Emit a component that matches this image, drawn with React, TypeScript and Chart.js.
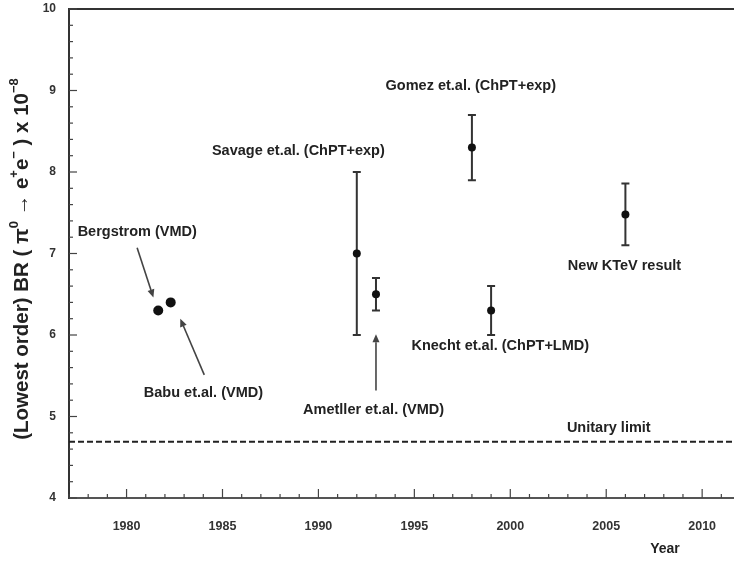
import React, { useEffect, useRef } from 'react';
import { Chart, registerables } from 'chart.js';

Chart.register(...registerables);

// Measurements / predictions of the lowest-order branching ratio (x 10^-8)
const sources = ['Bergstrom', 'Babu et.al.', 'Savage et.al.', 'Ametller et.al.', 'Gomez et.al.', 'Knecht et.al.', 'KTeV'];
const years = [1981.65, 1982.3, 1992, 1993, 1998, 1999, 2006];
const branchingRatio = [6.3, 6.4, 7.0, 6.5, 8.3, 6.3, 7.48];
const errors = [0, 0, 1.0, 0.2, 0.4, 0.3, 0.38];
const unitaryLimit = 4.69;

const yTickValues = [4, 5, 6, 7, 8, 9, 10];
const xTickValues = [1980, 1985, 1990, 1995, 2000, 2005, 2010];

// Text labels placed in data coordinates (year, BR)
const labelTexts = [
  'Bergstrom (VMD)',
  'Babu et.al. (VMD)',
  'Savage et.al. (ChPT+exp)',
  'Gomez et.al. (ChPT+exp)',
  'Ametller et.al. (VMD)',
  'Knecht et.al. (ChPT+LMD)',
  'New KTeV result',
  'Unitary limit',
];
const labelYears = [1977.45, 1980.9, 1984.45, 1993.5, 1989.2, 1994.85, 2003.0, 2002.95];
const labelValues = [7.26, 5.29, 8.26, 9.06, 5.08, 5.86, 6.85, 4.86];

// Arrows: tail (year, BR) -> head (year, BR)
const arrowTailYears = [1980.55, 1984.05, 1993.0];
const arrowTailValues = [7.07, 5.51, 5.32];
const arrowHeadYears = [1981.4, 1982.8, 1993.0];
const arrowHeadValues = [6.46, 6.2, 6.01];

const TEXT = '#222';
const FONT = 'Liberation Sans, Arial, sans-serif';

const decorations = {
  id: 'decorations',
  beforeDatasetsDraw(chart: any) {
    const { ctx, chartArea, scales } = chart;
    const xs = scales.x;
    const ys = scales.y;
    ctx.save();

    // top frame line
    ctx.strokeStyle = '#333';
    ctx.lineWidth = 2;
    ctx.beginPath();
    ctx.moveTo(chartArea.left - 1, chartArea.top);
    ctx.lineTo(chartArea.right, chartArea.top);
    ctx.stroke();

    // inward ticks on the y axis
    ctx.lineWidth = 1.2;
    ctx.strokeStyle = '#444';
    for (let i = 0; i <= 30; i++) {
      const v = 4 + i * 0.2;
      const py = ys.getPixelForValue(v);
      const major = i % 5 === 0;
      ctx.beginPath();
      ctx.moveTo(chartArea.left, py);
      ctx.lineTo(chartArea.left + (major ? 8 : 4), py);
      ctx.stroke();
    }
    // inward ticks on the x axis
    for (let yr = 1977; yr <= 2011; yr++) {
      const px = xs.getPixelForValue(yr);
      const major = yr % 5 === 0;
      ctx.beginPath();
      ctx.moveTo(px, chartArea.bottom);
      ctx.lineTo(px, chartArea.bottom - (major ? 9 : 4));
      ctx.stroke();
    }

    // tick labels
    ctx.fillStyle = '#333';
    ctx.font = `bold 12px ${FONT}`;
    ctx.textAlign = 'right';
    ctx.textBaseline = 'middle';
    yTickValues.forEach((v) => {
      ctx.fillText(String(v), chartArea.left - 13, ys.getPixelForValue(v));
    });
    ctx.font = `bold 12.5px ${FONT}`;
    ctx.textAlign = 'center';
    xTickValues.forEach((v) => {
      ctx.fillText(String(v), xs.getPixelForValue(v), chartArea.bottom + 29);
    });

    // unitary limit
    const uy = ys.getPixelForValue(unitaryLimit);
    ctx.strokeStyle = '#222';
    ctx.lineWidth = 2;
    ctx.setLineDash([6, 3]);
    ctx.beginPath();
    ctx.moveTo(chartArea.left, uy);
    ctx.lineTo(chartArea.right, uy);
    ctx.stroke();
    ctx.setLineDash([]);

    // error bars
    ctx.strokeStyle = '#333';
    ctx.lineWidth = 2;
    years.forEach((yr, i) => {
      const e = errors[i];
      if (!e) return;
      const px = xs.getPixelForValue(yr);
      const top = ys.getPixelForValue(branchingRatio[i] + e);
      const bot = ys.getPixelForValue(branchingRatio[i] - e);
      ctx.beginPath();
      ctx.moveTo(px, top);
      ctx.lineTo(px, bot);
      ctx.moveTo(px - 4, top);
      ctx.lineTo(px + 4, top);
      ctx.moveTo(px - 4, bot);
      ctx.lineTo(px + 4, bot);
      ctx.stroke();
    });
    ctx.restore();
  },
  afterDraw(chart: any) {
    const { ctx, scales } = chart;
    const xs = scales.x;
    const ys = scales.y;
    ctx.save();

    // annotations
    ctx.fillStyle = TEXT;
    ctx.font = `bold 14.5px ${FONT}`;
    ctx.textAlign = 'left';
    ctx.textBaseline = 'middle';
    labelTexts.forEach((t, i) => {
      ctx.fillText(t, xs.getPixelForValue(labelYears[i]), ys.getPixelForValue(labelValues[i]));
    });

    // arrows
    ctx.strokeStyle = '#444';
    ctx.fillStyle = '#444';
    ctx.lineWidth = 1.6;
    arrowTailYears.forEach((_, i) => {
      const x0 = xs.getPixelForValue(arrowTailYears[i]);
      const y0 = ys.getPixelForValue(arrowTailValues[i]);
      const x1 = xs.getPixelForValue(arrowHeadYears[i]);
      const y1 = ys.getPixelForValue(arrowHeadValues[i]);
      const ang = Math.atan2(y1 - y0, x1 - x0);
      const hl = 8;
      const hw = 3.5;
      const bx = x1 - hl * Math.cos(ang);
      const by = y1 - hl * Math.sin(ang);
      ctx.beginPath();
      ctx.moveTo(x0, y0);
      ctx.lineTo(bx, by);
      ctx.stroke();
      ctx.beginPath();
      ctx.moveTo(x1, y1);
      ctx.lineTo(bx + hw * Math.sin(ang), by - hw * Math.cos(ang));
      ctx.lineTo(bx - hw * Math.sin(ang), by + hw * Math.cos(ang));
      ctx.closePath();
      ctx.fill();
    });

    // x axis title
    ctx.fillStyle = TEXT;
    ctx.font = `bold 14px ${FONT}`;
    ctx.textAlign = 'center';
    ctx.textBaseline = 'middle';
    ctx.fillText('Year', 665, 549);

    // y axis title with superscripts
    const parts: [string, boolean][] = [
      ['(Lowest order) BR ( \u03c0', false],
      ['0', true],
      [' \u2192 e', false],
      ['+', true],
      ['e', false],
      ['\u2212', true],
      [' ) x 10', false],
      ['\u22128', true],
    ];
    const mainFont = `bold 20.5px ${FONT}`;
    const supFont = `bold 13px ${FONT}`;
    let total = 0;
    parts.forEach(([t, sup]) => {
      ctx.font = sup ? supFont : mainFont;
      total += ctx.measureText(t).width;
    });
    ctx.translate(22, 259);
    ctx.rotate(-Math.PI / 2);
    ctx.textAlign = 'left';
    ctx.textBaseline = 'middle';
    let x = -total / 2;
    parts.forEach(([t, sup]) => {
      ctx.font = sup ? supFont : mainFont;
      ctx.fillText(t, x, sup ? -8 : 0);
      x += ctx.measureText(t).width;
    });
    ctx.restore();
  },
};

export default function App() {
  const canvasRef = useRef<HTMLCanvasElement>(null);

  useEffect(() => {
    const canvas = canvasRef.current;
    if (!canvas) return;
    const chart = new Chart(canvas, {
      type: 'scatter',
      data: {
        datasets: [
          {
            label: 'BR',
            data: years.map((yr, i) => ({ x: yr, y: branchingRatio[i] })),
            backgroundColor: '#111',
            borderColor: '#111',
            pointRadius: sources.map((_, i) => (errors[i] ? 4 : 5)),
            pointBorderWidth: 0,
          },
        ],
      },
      options: {
        responsive: false,
        animation: false,
        devicePixelRatio: 1,
        layout: { autoPadding: false, padding: { top: 9, left: 0, right: 0, bottom: 0 } },
        plugins: { legend: { display: false }, tooltip: { enabled: false } },
        scales: {
          x: {
            type: 'linear',
            min: 1977,
            max: 2011.66,
            afterFit: (s: any) => {
              s.height = 63;
            },
            ticks: { display: false },
            grid: { display: false, drawTicks: false },
            border: { display: true, color: '#555', width: 2 },
          },
          y: {
            type: 'linear',
            min: 4,
            max: 10,
            afterFit: (s: any) => {
              s.width = 69;
            },
            ticks: { display: false },
            grid: { display: false, drawTicks: false },
            border: { display: true, color: '#333', width: 2 },
          },
        },
      },
      plugins: [decorations],
    });
    return () => chart.destroy();
  }, []);

  return (
    <div style={{ position: 'fixed', left: 0, top: 0, width: 734, height: 561, background: '#fff' }}>
      <canvas ref={canvasRef} width={734} height={561} />
    </div>
  );
}
